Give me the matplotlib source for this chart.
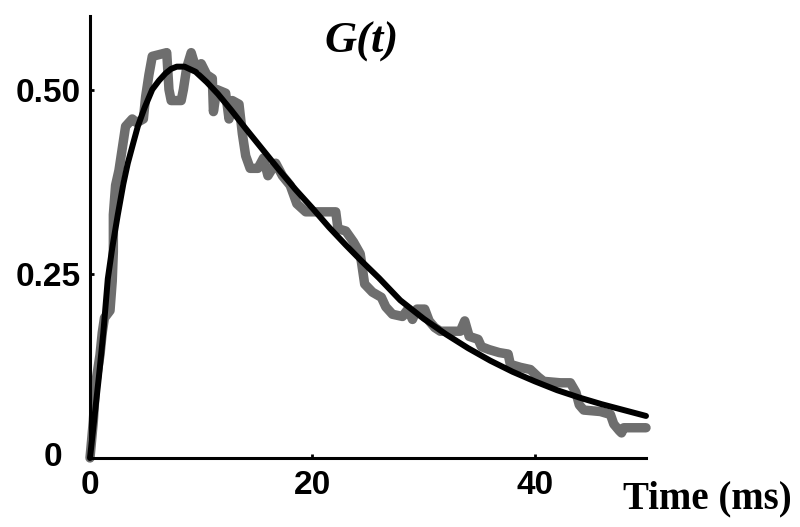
import matplotlib
matplotlib.use("Agg")
import matplotlib.pyplot as plt

# ============================================
# Data
# ============================================

# measured trace (gray, noisy steps)
trace_t = [0.0, 0.3, 0.5, 0.7, 0.9, 1.1, 1.3, 1.8, 2.0, 2.1, 2.1, 2.3, 2.6, 2.9,
           3.2, 3.8, 4.2, 4.8, 5.0, 5.3, 5.6, 6.9, 7.1, 7.3, 8.2, 8.4, 8.7,
           9.1, 9.5, 10.0, 10.5, 11.0, 11.1, 11.4, 12.2, 12.5, 12.8, 13.4,
           13.7, 14.0, 14.4, 15.1, 15.6, 16.0, 16.7, 17.3, 18.0, 18.6, 19.4,
           20.5, 22.1, 22.3, 23.0, 23.7, 24.3, 24.7, 25.4, 26.2, 26.6, 27.2,
           28.1, 28.6, 29.0, 29.4, 30.1, 30.5, 31.0, 31.5, 33.3, 33.7, 34.1,
           34.9, 35.2, 35.9, 36.8, 37.6, 37.8, 38.7, 39.6, 40.3, 40.8, 42.3,
           43.2, 43.7, 44.0, 44.4, 45.9, 46.8, 47.1, 47.6, 47.8, 48.0, 50.0]
trace_g = [0.0, 0.05, 0.10, 0.12, 0.14, 0.17, 0.19, 0.20, 0.24, 0.28, 0.33, 0.37,
           0.39, 0.42, 0.45, 0.46, 0.455, 0.46, 0.49, 0.52, 0.545, 0.55, 0.50,
           0.485, 0.485, 0.50, 0.53, 0.55, 0.53, 0.535, 0.52, 0.515, 0.47, 0.50,
           0.495, 0.46, 0.485, 0.48, 0.44, 0.41, 0.393, 0.393, 0.407, 0.383,
           0.40, 0.383, 0.37, 0.345, 0.334, 0.334, 0.334, 0.311, 0.308, 0.293,
           0.277, 0.236, 0.225, 0.218, 0.205, 0.195, 0.192, 0.202, 0.188, 0.202,
           0.202, 0.186, 0.177, 0.172, 0.172, 0.186, 0.165, 0.161, 0.151, 0.147,
           0.143, 0.141, 0.127, 0.123, 0.12, 0.11, 0.104, 0.102, 0.102, 0.089,
           0.072, 0.065, 0.063, 0.059, 0.046, 0.037, 0.034, 0.041, 0.041]

# fitted curve (black)
fit_t = [0.0, 0.4, 0.8, 1.2, 1.6, 2.0, 2.5, 3.0, 3.4, 3.9, 4.3, 4.9, 5.6,
         6.2, 6.8, 7.3, 7.8, 8.5, 9.5, 10.5, 11.5, 12.7, 14.0, 15.5, 17.0,
         18.5, 20.0, 21.5, 23.0, 24.5, 26.0, 27.9, 30.0, 32.0, 34.0, 36.0,
         38.0, 40.0, 42.0, 44.0, 46.0, 48.0, 50.0]
fit_g = [0.0, 0.055, 0.11, 0.17, 0.243, 0.285, 0.33, 0.372, 0.40, 0.428,
         0.45, 0.475, 0.50, 0.512, 0.522, 0.528, 0.531, 0.531, 0.524, 0.51,
         0.494, 0.472, 0.447, 0.419, 0.391, 0.364, 0.339, 0.313, 0.289,
         0.266, 0.244, 0.214, 0.189, 0.168, 0.149, 0.132, 0.117, 0.104,
         0.092, 0.082, 0.073, 0.065, 0.057]

x_ticks = [0, 20, 40]
y_ticks = [0, 0.25, 0.50]
y_tick_labels = ["", "0.25", "0.50"]

# ============================================
# Plot
# ============================================

fig = plt.figure(figsize=(8, 5.27), dpi=100)
ax = fig.add_axes([0.1125, 0.131, 0.695, 0.839])

ax.plot(trace_t, trace_g, color="#6e6e6e", linewidth=6.8,
        solid_joinstyle="round", solid_capstyle="round", clip_on=False)
ax.plot(fit_t, fit_g, color="black", linewidth=4.3,
        solid_joinstyle="round", solid_capstyle="round", clip_on=False)

ax.set_xlim(0, 50)
ax.set_ylim(0, 0.6)

for side in ["top", "right"]:
    ax.spines[side].set_visible(False)
for side in ["left", "bottom"]:
    ax.spines[side].set_linewidth(2.2)

ax.set_xticks(x_ticks)
ax.set_xticklabels([str(v) for v in x_ticks])
ax.set_yticks(y_ticks)
ax.set_yticklabels(y_tick_labels)
ax.tick_params(direction="in", length=3, width=2)
ax.tick_params(axis="x", pad=9)
ax.tick_params(axis="y", pad=7)
for lab in ax.get_xticklabels() + ax.get_yticklabels():
    lab.set_fontfamily("Liberation Sans")
    lab.set_fontweight("bold")
    lab.set_fontsize(24)

# the "0" on the y axis sits further left than the other labels
ax.annotate("0", xy=(0, 0), xytext=(-28, 0), textcoords="offset pixels",
            ha="right", va="center", family="Liberation Sans",
            fontweight="bold", fontsize=24, annotation_clip=False)

fig.text(0.99, 0.035, "Time (ms)", family="Liberation Serif",
         fontweight="bold", fontsize=28, ha="right", va="baseline")
fig.text(0.452, 0.9, "G(t)", family="Liberation Serif", fontweight="bold",
         fontstyle="italic", fontsize=32, ha="center", va="baseline")

fig.savefig("out.png", dpi=100)
